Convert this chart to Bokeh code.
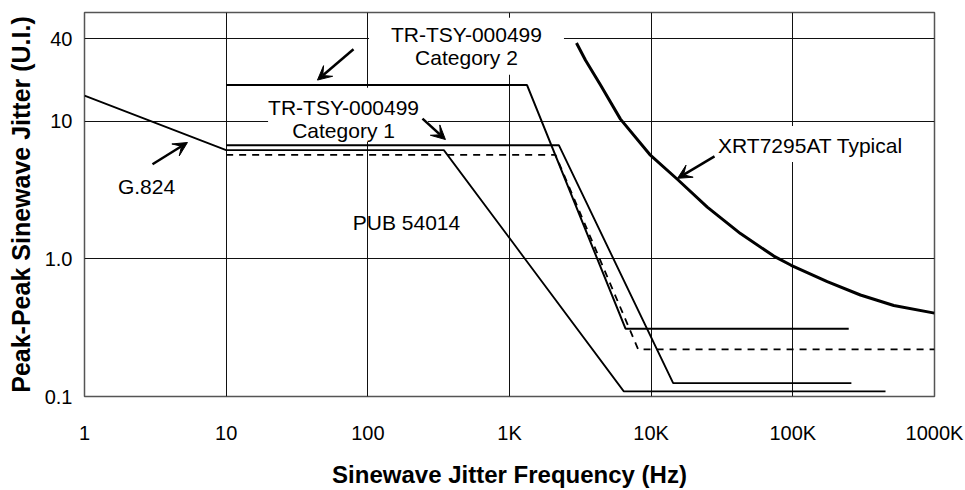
from bokeh.plotting import figure
from bokeh.models import FixedTicker, Label, Arrow, VeeHead, Range1d
from bokeh.embed import file_html
from bokeh.resources import INLINE

# ---- data (frequency in Hz, jitter in U.I. peak-peak)
g824_freq = [1, 10, 344, 6410, 451000]
g824_jitter = [15.4, 6.19, 6.19, 0.109, 0.109]

cat1_freq = [10, 2230, 14300, 259000]
cat1_jitter = [6.72, 6.72, 0.125, 0.125]

cat2_freq = [10, 1330, 6590, 248000]
cat2_jitter = [18.4, 18.4, 0.311, 0.311]

pub54014_freq = [10, 2110, 8100, 1000000]
pub54014_jitter = [5.71, 5.71, 0.22, 0.22]

xrt_freq = [2970, 3440, 4390, 6070, 9780, 15300, 24900, 42700, 73400,
            97300, 175000, 300000, 516000, 1000000]
xrt_jitter = [37.2, 27.9, 18.4, 10.4, 5.75, 3.8, 2.38, 1.53, 1.05,
              0.90, 0.684, 0.547, 0.459, 0.404]

x_ticks = [1, 10, 100, 1000, 10000, 100000, 1000000]
x_tick_labels = ["1", "10", "100", "1K", "10K", "100K", "1000K"]
x_grid = [10, 100, 1000, 10000, 100000]
y_ticks = [0.1, 1, 10, 40]
y_tick_labels = ["0.1", "1.0", "10", "40"]
y_grid = [1, 10, 40]

FONT = "Liberation Sans"

p = figure(width=965, height=490, x_axis_type="log", y_axis_type="log",
           x_range=Range1d(1, 1e6), y_range=Range1d(0.1, 62),
           output_backend="svg", toolbar_location=None,
           min_border_left=84, min_border_right=31,
           min_border_top=12, min_border_bottom=91)

p.outline_line_color = "#555555"
p.outline_line_width = 1.5
p.background_fill_color = "white"
p.border_fill_color = "white"

for ax in (p.xaxis[0], p.yaxis[0]):
    ax.axis_line_color = None
    ax.major_tick_line_color = None
    ax.minor_tick_line_color = None
    ax.major_tick_out = 0
    ax.major_tick_in = 0
    ax.minor_tick_out = 0
    ax.major_label_text_font = FONT
    ax.major_label_text_font_size = "20px"
    ax.major_label_text_color = "black"
    ax.axis_label_text_font = FONT
    ax.axis_label_text_font_size = "24px"
    ax.axis_label_text_font_style = "bold"
    ax.axis_label_text_color = "black"

p.xaxis.ticker = FixedTicker(ticks=x_ticks)
p.xaxis.major_label_overrides = dict(zip(x_ticks, x_tick_labels))
p.xaxis.major_label_standoff = 25
p.xaxis.axis_label = "Sinewave Jitter Frequency (Hz)"
p.xaxis.axis_label_standoff = 14

p.yaxis.ticker = FixedTicker(ticks=y_ticks)
p.yaxis.major_label_overrides = dict(zip(y_ticks, y_tick_labels))
p.yaxis.major_label_standoff = 12
p.yaxis.axis_label = "Peak-Peak Sinewave Jitter (U.I.)"
p.yaxis.axis_label_text_font_size = "25px"
p.yaxis.axis_label_standoff = 7

p.xgrid.ticker = FixedTicker(ticks=x_grid)
p.ygrid.ticker = FixedTicker(ticks=y_grid)
for g in (p.xgrid[0], p.ygrid[0]):
    g.grid_line_color = "#111111"
    g.grid_line_width = 1
    g.grid_line_alpha = 1.0
    g.minor_grid_line_color = None

# ---- series
p.line(g824_freq, g824_jitter, line_color="black", line_width=1.8)
p.line(cat1_freq, cat1_jitter, line_color="black", line_width=1.9)
p.line(cat2_freq, cat2_jitter, line_color="black", line_width=2.0)
p.line(pub54014_freq, pub54014_jitter, line_color="black", line_width=1.8,
       line_dash="7 6")
p.line(xrt_freq, xrt_jitter, line_color="black", line_width=3,
       line_join="round")

# ---- annotations
def lab(x, y, text, pad=None):
    kw = dict(x=x, y=y, text=text, text_align="center", text_baseline="middle",
              text_font=FONT, text_font_size="21px", text_color="black",
              text_line_height=1.0)
    if pad is not None:
        kw["background_fill_color"] = "white"
        kw["padding"] = pad
    p.add_layout(Label(**kw))

lab(497, 35.2, "TR-TSY-000499\nCategory 2", dict(left=22, right=22, top=5, bottom=6))
lab(72.5, 11.2, "TR-TSY-000499\nCategory 1", dict(left=0, right=9, top=8, bottom=0))
lab(133200, 6.86, "XRT7295AT Typical", dict(left=3, right=3, top=8, bottom=5))
lab(2.74, 3.39, "G.824")
lab(187.5, 1.83, "PUB 54014")

arrows = [
    ((3.02, 4.88), (5.33, 7.03)),
    ((79.2, 33.5), (44.1, 20.0)),
    ((243, 10.5), (353, 7.39)),
    ((28000, 5.57), (15350, 3.86)),
]
for (xs, ys), (xe, ye) in arrows:
    p.add_layout(Arrow(x_start=xs, y_start=ys, x_end=xe, y_end=ye,
                       line_color="black", line_width=2.5,
                       end=VeeHead(size=14, fill_color="black",
                                   line_color="black", line_width=1)))

open("out.html", "w").write(file_html(p, INLINE))
